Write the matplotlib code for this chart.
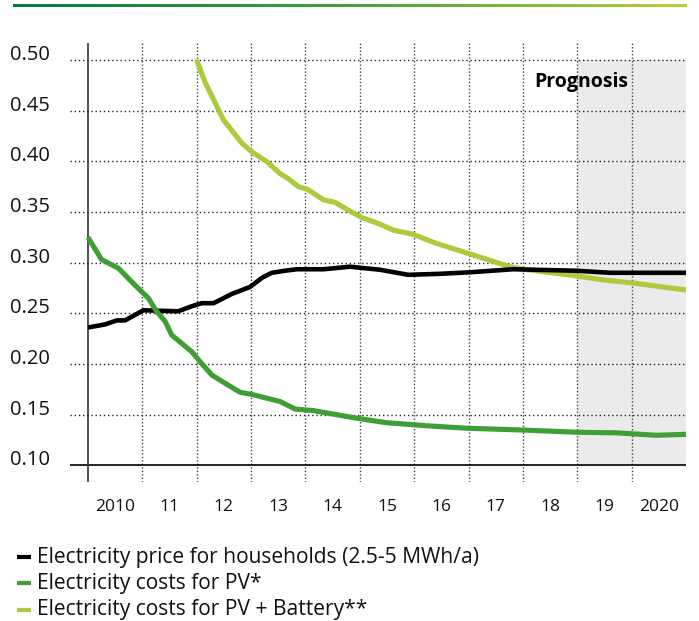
import matplotlib
matplotlib.use("Agg")
import matplotlib.pyplot as plt
import matplotlib.transforms as mtransforms
import numpy as np
from matplotlib.lines import Line2D
from matplotlib.patches import Rectangle
from matplotlib.colors import LinearSegmentedColormap

plt.rcParams['font.family'] = ['Open Sans', 'DejaVu Sans']

# ---------------- data ----------------
years_labels = ["2010", "11", "12", "13", "14", "15", "16", "17", "18", "19", "2020"]
y_ticks = [0.10, 0.15, 0.20, 0.25, 0.30, 0.35, 0.40, 0.45, 0.50]
y_tick_labels = ["0.10", "0.15", "0.20", "0.25", "0.30", "0.35", "0.40", "0.45", "0.50"]

price_t = [2010.0, 2010.31, 2010.53, 2010.68, 2011.02, 2011.66, 2011.91, 2012.09, 2012.31,
           2012.64, 2012.98, 2013.20, 2013.38, 2013.62, 2013.84, 2014.33, 2014.82, 2015.00,
           2015.37, 2015.89, 2016.48, 2017.03, 2017.82, 2018.99, 2019.60, 2021.0]
price_v = [0.236, 0.239, 0.243, 0.243, 0.253, 0.252, 0.257, 0.260, 0.260,
           0.269, 0.276, 0.285, 0.290, 0.292, 0.2935, 0.2935, 0.296, 0.295,
           0.293, 0.288, 0.289, 0.2905, 0.2935, 0.292, 0.290, 0.290]

pv_t = [2010.0, 2010.25, 2010.56, 2010.86, 2011.11, 2011.26, 2011.42, 2011.54, 2011.91,
        2012.09, 2012.28, 2012.52, 2012.80, 2013.01, 2013.53, 2013.81, 2014.14, 2014.94,
        2015.49, 2016.29, 2017.00, 2018.00, 2019.01, 2019.73, 2020.46, 2021.0]
pv_v = [0.325, 0.303, 0.2945, 0.278, 0.265, 0.252, 0.242, 0.2285, 0.212,
        0.2005, 0.189, 0.181, 0.172, 0.170, 0.163, 0.1555, 0.154, 0.1465,
        0.142, 0.1388, 0.1365, 0.1348, 0.1326, 0.132, 0.1296, 0.1306]

bat_t = [2012.0, 2012.15, 2012.30, 2012.49, 2012.83, 2013.01, 2013.29, 2013.53, 2013.68,
         2013.87, 2014.05, 2014.33, 2014.54, 2014.76, 2015.04, 2015.37, 2015.62, 2015.98,
         2016.41, 2017.00, 2017.76, 2018.01, 2018.87, 2019.48, 2020.00, 2021.0]
bat_v = [0.500, 0.4785, 0.462, 0.441, 0.418, 0.4095, 0.3997, 0.388, 0.383,
         0.375, 0.372, 0.362, 0.3596, 0.3527, 0.3444, 0.338, 0.332, 0.328,
         0.319, 0.309, 0.296, 0.2935, 0.2878, 0.283, 0.280, 0.273]

legend_labels = ["Electricity price for households (2.5-5 MWh/a)",
                 "Electricity costs for PV*",
                 "Electricity costs for PV + Battery**"]

# ---------------- style ----------------
C_BLACK = "#000000"
C_PV = "#3f9e36"
C_BAT = "#acca3c"
C_SHADE = "#ebebeb"

W, H = 699, 621
fig = plt.figure(figsize=(W / 100, H / 100), dpi=100)

x0, x1 = 2010 - 18 / 54.36, 2021.0
y0, y1 = 0.0835, 0.5168
ax = fig.add_axes([70 / W, (H - 482) / H, (686 - 70) / W, (482 - 43) / H])
ax.set_xlim(x0, x1)
ax.set_ylim(y0, y1)
ax.axis("off")

# prognosis shading
ax.add_patch(Rectangle((2019, 0.10), 2.0, 0.40, facecolor=C_SHADE, edgecolor="none", zorder=0))

# horizontal dotted grid
for yv in y_ticks[1:]:
    ax.plot([x0, x1], [yv, yv], color="#222222", lw=1.0, ls=(0, (1, 2)), zorder=1)
# baseline
ax.plot([x0, x1], [0.10, 0.10], color="#000000", lw=1.2, zorder=2)
# vertical dotted lines
for yr in range(2011, 2021):
    ax.plot([yr, yr], [y0, y1], color="#444444", lw=1.0, ls=(0, (1, 1.5)), zorder=1)
# y axis line
ax.plot([2010, 2010], [y0, y1], color="#333333", lw=1.2, zorder=2)

# data lines
ax.plot(bat_t, bat_v, color=C_BAT, lw=3.7, zorder=3, solid_capstyle="butt", solid_joinstyle="round")
ax.plot(price_t, price_v, color=C_BLACK, lw=3.3, zorder=4, solid_capstyle="butt", solid_joinstyle="round")
ax.plot(pv_t, pv_v, color=C_PV, lw=3.7, zorder=5, solid_capstyle="butt", solid_joinstyle="round")

# y labels (slightly above their gridline)
ytrans = mtransforms.blended_transform_factory(fig.transFigure, ax.transData)
yoff = mtransforms.ScaledTranslation(0, 5 / 100, fig.dpi_scale_trans)
for yv, lab in zip(y_ticks, y_tick_labels):
    ax.text(50 / W, yv, lab, transform=ytrans + yoff,
            ha="right", va="center", fontsize=14.5, color="#111111")

# x labels
for i, lab in enumerate(years_labels):
    fig.text((88 + (i + 0.5) * 54.36) / W, (H - 507) / H, lab, ha="center", va="center",
             fontsize=12.5, color="#111111")

# Prognosis label
ax.text(2019.07, 0.478, "Prognosis", ha="center", va="center", fontsize=14,
        fontweight="bold", color="#000000", zorder=6)

# legend
leg_y = [557, 583, 610]
for yy, lab, col in zip(leg_y, legend_labels, [C_BLACK, C_PV, C_BAT]):
    fig.add_artist(Line2D([17 / W, 31 / W], [(H - yy) / H] * 2, color=col, lw=3.0,
                          transform=fig.transFigure, solid_capstyle="butt"))
    fig.text(37 / W, (H - yy) / H, lab, ha="left", va="center", fontsize=15.1, color="#111111")

# top gradient rule
gax = fig.add_axes([13 / W, (H - 7) / H, (687 - 13) / W, 3.5 / H])
cmap = LinearSegmentedColormap.from_list("g", ["#007a47", "#45a23a", "#b9d03c"])
gax.imshow(np.linspace(0, 1, 256)[None, :], aspect="auto", cmap=cmap)
gax.axis("off")

fig.savefig("out.png", dpi=100)
